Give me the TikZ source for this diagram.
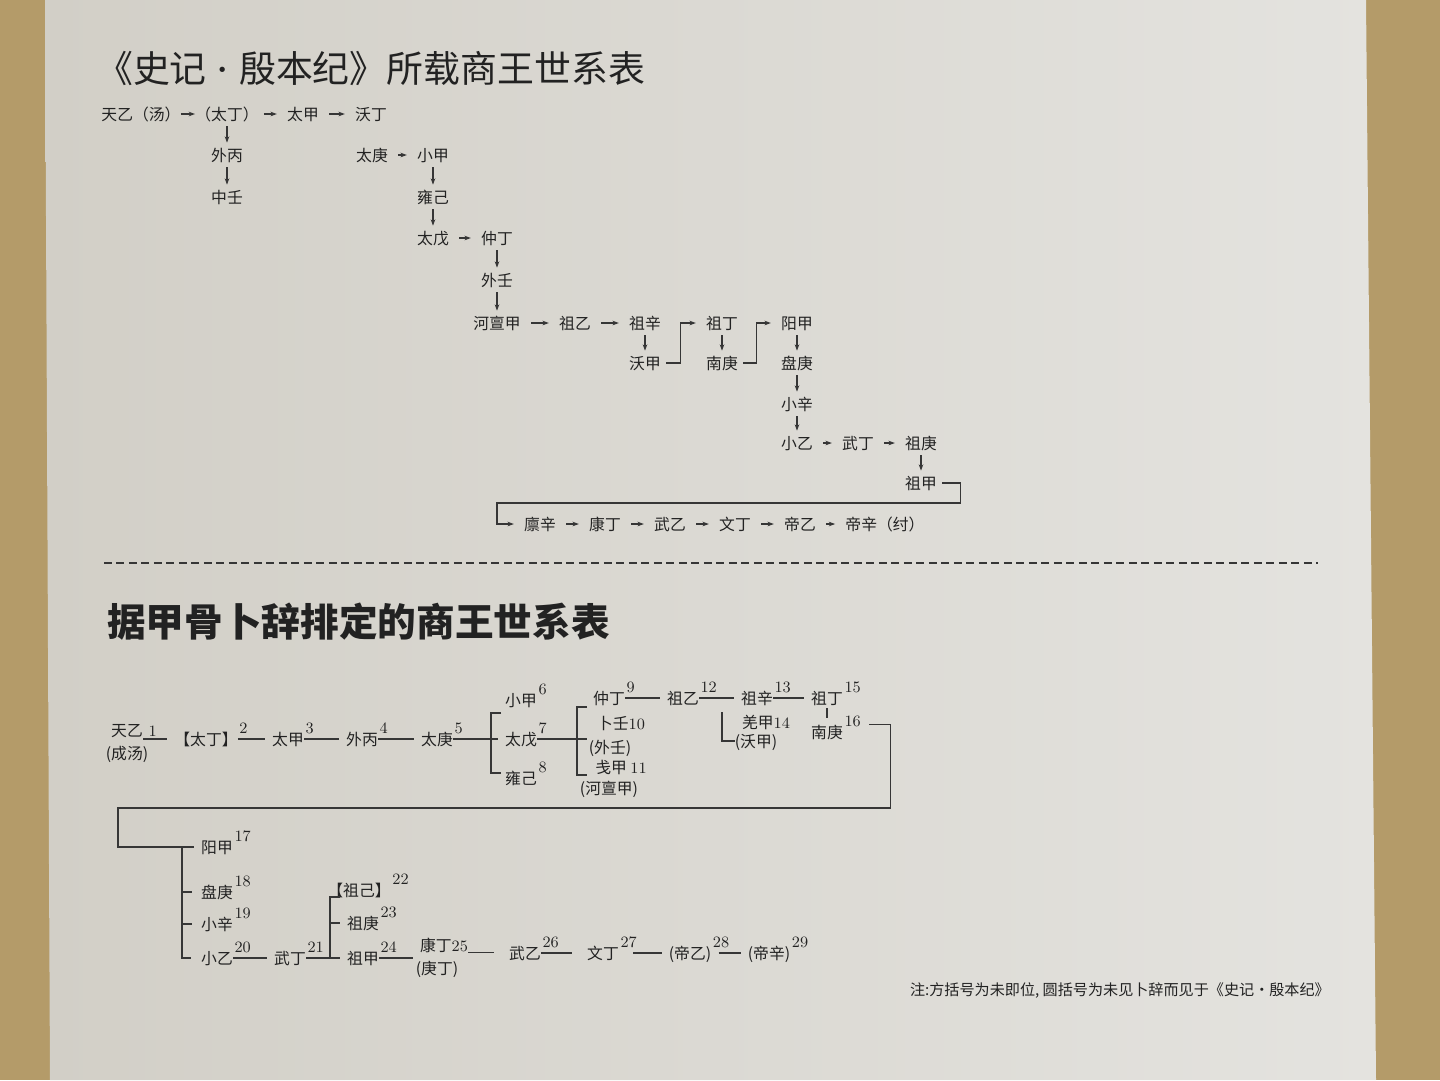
\documentclass[tikz,border=0pt]{standalone}
\usepackage{fontspec}
\newfontfamily\cjk{Noto Sans CJK SC}
\usetikzlibrary{arrows.meta,calc}

\definecolor{ink}{HTML}{222222}
\definecolor{wire}{HTML}{363636}
\definecolor{wall}{HTML}{B49B69}
\definecolor{panelL}{HTML}{D2CFC7}
\definecolor{panelR}{HTML}{E4E3DF}

\begin{document}
\begin{tikzpicture}[x=0.02cm, y=-0.02cm,
			every node/.style={font=\cjk\fontsize{9}{11}\selectfont, text=ink},
			k/.style={inner xsep=0.1cm, inner ysep=0pt, text height=0.26cm, text depth=0.02cm},
			w/.style={inner sep=0pt, text height=0.26cm, text depth=0.02cm},
			sup/.style={font=\rmfamily\fontsize{9}{11}\selectfont, inner sep=0.6pt, anchor=south west, yshift=-0.07cm},
			ar/.style={draw=wire, line width=0.6pt, -{Stealth[length=3.6pt,width=2.6pt]}, shorten <=0.1cm, shorten >=0.1cm},
			el/.style={ar, shorten <=0pt},
			ln/.style={draw=wire, line width=0.6pt, shorten >=0.14cm},
			br/.style={draw=wire, line width=0.6pt}]
	\useasboundingbox (0,0) rectangle (1440,1080);
	% wall and panel
	\fill[wall] (0,0) rectangle (1440,1080);
	\shade[left color=panelL, right color=panelR] (45,0) -- (1366,0) -- (1376,1080) -- (50,1080) -- cycle;

	% --- Shiji table ---
	\node[anchor=west, font=\cjk\fontsize{21}{25}\selectfont] (t1) at (90,68) {《史记{\rmfamily\bfseries ·}殷本纪》所载商王世系表};
	\node[k, inner xsep=0pt] (ty) at (141,114) {天乙（汤）};
	\node[k, inner xsep=0pt] (td) at (227,114) {（太丁）};
	\node[k] (tj) at (303,114) {太甲};
	\node[k] (wd) at (371,114) {沃丁};
	\node[k] (wb) at (227,155) {外丙};
	\node[k] (zr) at (227,197) {中壬};
	\node[k] (tg) at (372,155) {太庚};
	\node[k] (xj) at (433,155) {小甲};
	\node[k] (yj) at (433,197) {雍己};
	\node[k] (tw) at (433,238) {太戊};
	\node[k] (zd) at (497,238) {仲丁};
	\node[k] (wr) at (497,280) {外壬};
	\node[k] (hdj) at (497,323) {河亶甲};
	\node[k] (zy) at (575,323) {祖乙};
	\node[k] (zx) at (645,323) {祖辛};
	\node[k] (zdg) at (722,323) {祖丁};
	\node[k] (yjia) at (797,323) {阳甲};
	\node[k] (woj) at (645,363) {沃甲};
	\node[k] (ng) at (722,363) {南庚};
	\node[k] (pg) at (797,363) {盘庚};
	\node[k] (xx) at (797,404) {小辛};
	\node[k] (xy) at (797,443) {小乙};
	\node[k] (wdg) at (858,443) {武丁};
	\node[k] (zg) at (921,443) {祖庚};
	\node[k] (zjia) at (921,483) {祖甲};
	\node[k] (lx) at (540,524) {廪辛};
	\node[k] (kd) at (605,524) {康丁};
	\node[k] (wyi) at (670,524) {武乙};
	\node[k] (wdi) at (735,524) {文丁};
	\node[k] (dy) at (800,524) {帝乙};
	\node[k] (dx) at (885,524) {帝辛（纣）};
	\coordinate (turn) at (497,503);
	\draw[ar, shorten <=0pt, shorten >=0pt] (ty) -- (td);
	\draw[ar] (td) -- (tj); \draw[ar] (tj) -- (wd);
	\draw[ar] (td) -- (wb); \draw[ar] (wb) -- (zr);
	\draw[ar] (tg) -- (xj); \draw[ar] (xj) -- (yj); \draw[ar] (yj) -- (tw);
	\draw[ar] (tw) -- (zd); \draw[ar] (zd) -- (wr); \draw[ar] (wr) -- (hdj);
	\draw[ar] (hdj) -- (zy); \draw[ar] (zy) -- (zx); \draw[ar] (zx) -- (woj);
	\draw[el] (woj.east) -- ++(14,0) |- (zdg.west);
	\draw[ar] (zdg) -- (ng);
	\draw[el] (ng.east) -- ++(13,0) |- (yjia.west);
	\draw[ar] (yjia) -- (pg); \draw[ar] (pg) -- (xx); \draw[ar] (xx) -- (xy);
	\draw[ar] (xy) -- (wdg); \draw[ar] (wdg) -- (zg); \draw[ar] (zg) -- (zjia);
	\draw[el] (zjia.east) -- ++(18,0) |- (turn) |- (lx.west);
	\draw[ar] (lx) -- (kd); \draw[ar] (kd) -- (wyi); \draw[ar] (wyi) -- (wdi);
	\draw[ar] (wdi) -- (dy); \draw[ar] (dy) -- (dx);

	\draw[wire, line width=1.1pt, dash pattern=on 0.16cm off 0.09cm] (104,563) -- (1318,563);

	% --- oracle bone table ---
	\node[anchor=west, font=\cjk\bfseries\fontsize{22}{26}\selectfont] (t2) at (101,622) {据甲骨卜辞排定的商王世系表};
	\node[w] (ty2) at (127,730) {天乙};
	\node[w] (cht) at (127,753) {(成汤)};
	\node[w] (td2) at (206,739) {【太丁】};
	\node[w] (tj2) at (288,739) {太甲};
	\node[w] (wb2) at (362,739) {外丙};
	\node[w] (tg2) at (437,739) {太庚};
	\node[w] (xj2) at (521,700) {小甲};
	\node[w] (tw2) at (521,739) {太戊};
	\node[w] (yj2) at (521,778) {雍己};
	\node[w] (zd2) at (609,698) {仲丁};
	\node[w] (bur) at (621,723) {卜壬{\rmfamily 10}};
	\node[w] (wr2) at (610,747) {(外壬)};
	\node[w] (jj) at (621,767) {戋甲 {\rmfamily 11}};
	\node[w] (hdj2) at (609,788) {(河亶甲)};
	\node[w] (zy2) at (683,698) {祖乙};
	\node[w] (zx2) at (757,698) {祖辛};
	\node[w] (qj) at (766,722) {羌甲{\rmfamily 14}};
	\node[w] (woj2) at (756,741) {(沃甲)};
	\node[w] (zdg2) at (827,698) {祖丁};
	\node[w] (ng2) at (827,732) {南庚};
	\node[w] (yj3) at (217,847) {阳甲};
	\node[w] (pg2) at (217,892) {盘庚};
	\node[w] (xx2) at (217,924) {小辛};
	\node[w] (xyi2) at (217,958) {小乙};
	\node[w] (wdg2) at (290,958) {武丁};
	\node[w] (zjc) at (359,890) {【祖己】};
	\node[w] (zg2) at (363,923) {祖庚};
	\node[w] (zjb) at (363,958) {祖甲};
	\node[w] (kd2) at (444,945) {康丁{\rmfamily 25}};
	\node[w] (gd) at (437,968) {(庚丁)};
	\node[w] (wyi2) at (525,953) {武乙};
	\node[w] (wdi2) at (603,953) {文丁};
	\node[w] (dy2) at (690,953) {(帝乙)};
	\node[w] (dx2) at (769,953) {(帝辛)};
	% reign numbers
	\node[sup, anchor=west, yshift=0.04cm, xshift=0.08cm] (s1) at (ty2.east) {1};
	\node[sup] (s2) at (td2.north east) {2};
	\node[sup] (s3) at (tj2.north east) {3};
	\node[sup] (s4) at (wb2.north east) {4};
	\node[sup] (s5) at (tg2.north east) {5};
	\node[sup] (s6) at (xj2.north east) {6};
	\node[sup] (s7) at (tw2.north east) {7};
	\node[sup] (s8) at (yj2.north east) {8};
	\node[sup] (s9) at (zd2.north east) {9};
	\node[sup] (s12) at (zy2.north east) {12};
	\node[sup] (s13) at (zx2.north east) {13};
	\node[sup] (s15) at (zdg2.north east) {15};
	\node[sup] (s16) at (ng2.north east) {16};
	\node[sup] (s17) at (yj3.north east) {17};
	\node[sup] (s18) at (pg2.north east) {18};
	\node[sup] (s19) at (xx2.north east) {19};
	\node[sup] (s20) at (xyi2.north east) {20};
	\node[sup] (s21) at (wdg2.north east) {21};
	\node[sup] (s22) at (zjc.north east) {22};
	\node[sup] (s23) at (zg2.north east) {23};
	\node[sup] (s24) at (zjb.north east) {24};
	\node[sup] (s26) at (wyi2.north east) {26};
	\node[sup] (s27) at (wdi2.north east) {27};
	\node[sup] (s28) at (dy2.north east) {28};
	\node[sup] (s29) at (dx2.north east) {29};
	\coordinate (b1) at (491,739);
	\coordinate (b2) at (577,739);
	\coordinate (zyb) at (722,712);
	\coordinate (turn2) at (118,808);
	\coordinate (b4) at (182,847);
	\coordinate (b3) at (330,958);
	\draw[ln] (ty2.east |- td2.west) -- (td2.west);
	\draw[ln] (td2.east) -- (tj2.west); \draw[ln] (tj2.east) -- (wb2.west);
	\draw[ln] (wb2.east) -- (tg2.west); \draw[ln] (tg2.east) -- (tw2.west);
	\draw[br] ($(b1)+(10,-26)$) -| ($(b1)+(0,34)$) -- ++(10,0);
	\draw[br] (tw2.east) -- ($(b2)+(10,0)$);
	\draw[br] ($(b2)+(10,-32)$) -| ($(b2)+(0,36)$) -- ++(10,0);
	\draw[ln] (zd2.east) -- (zy2.west); \draw[ln] (zy2.east) -- (zx2.west);
	\draw[ln] (zx2.east) -- (zdg2.west);
	\draw[br] (zyb) |- (woj2.west);
	\draw[br, shorten <=0.06cm, shorten >=0.14cm] (zdg2) -- (ng2);
	\draw[ln] (s16.east) ++(7,3) -- ++(21,0) |- (turn2) |- (yj3.west);
	\draw[br] (b4) |- ($(xyi2.west)+(-10,0)$);
	\draw[br] (b4 |- pg2) -- ++(10,0); \draw[br] (b4 |- xx2) -- ++(10,0);
	\draw[ln] (xyi2.east) -- (wdg2.west); \draw[ln] (wdg2.east) -- (zjb.west);
	\draw[br] (b3) |- ($(b3)+(10,-61)$);
	\draw[br] (b3 |- zg2) -- ++(10,0);
	\draw[ln] (zjb.east) -- (kd2.west |- zjb.east);
	\draw[ln, shorten >=0.3cm] (kd2.south east) -- (wyi2.west |- kd2.south east);
	\draw[ln, shorten >=0.3cm] (wyi2.east) -- (wdi2.west);
	\draw[ln, shorten <=0.28cm] (wdi2.east) -- (dy2.west);
	\draw[ln, shorten <=0.14cm] (dy2.east) -- (dx2.west);

	\node[anchor=east, font=\cjk\fontsize{8.6}{10}\selectfont] (note) at (1336,991) {注:方括号为未即位, 圆括号为未见卜辞而见于《史记·殷本纪》};
\end{tikzpicture}
\end{document}
